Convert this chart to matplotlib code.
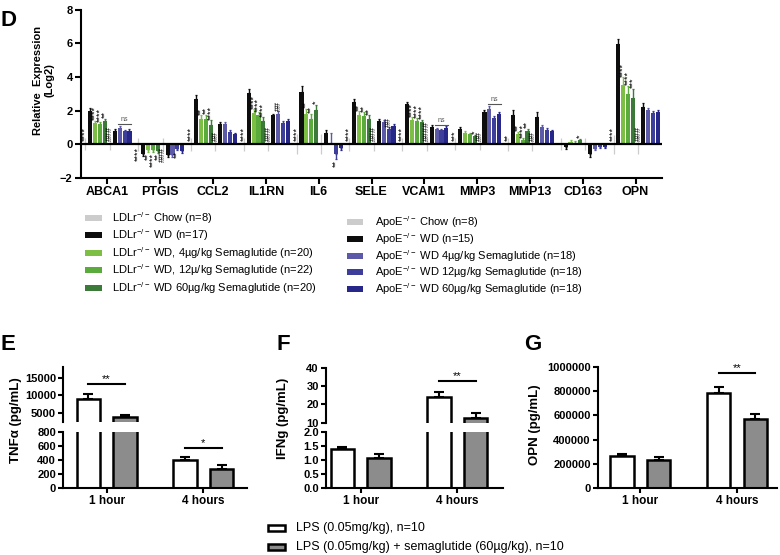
import numpy as np
import matplotlib.pyplot as plt
from matplotlib.patches import Rectangle

plt.rcParams['font.family'] = ['Liberation Sans', 'DejaVu Sans']
plt.rcParams['mathtext.fontset'] = 'custom'
plt.rcParams['mathtext.rm'] = 'Liberation Sans'
plt.rcParams['mathtext.it'] = 'Liberation Sans:italic'
plt.rcParams['mathtext.bf'] = 'Liberation Sans:bold'

W, H = 780, 555

# ---- panel D data (log2 relative expression) ----
genes = ['ABCA1', 'PTGIS', 'CCL2', 'IL1RN', 'IL6', 'SELE', 'VCAM1', 'MMP3', 'MMP13', 'CD163', 'OPN']
ldlr_wd = [2.0, -0.6, 2.67, 3.07, 3.12, 2.49, 2.38, 0.88, 1.76, -0.16, 5.95]
ldlr_4 = [1.28, -0.36, 1.51, 1.88, 1.8, 1.75, 1.45, 0.69, 0.63, 0.14, 3.53]
ldlr_12 = [1.2, -0.36, 1.5, 1.74, 1.52, 1.7, 1.41, 0.6, 0.27, 0.08, 2.98]
ldlr_60 = [1.4, -0.37, 1.12, 1.41, 2.04, 1.51, 1.31, 0.47, 0.76, 0.24, 2.76]
apoe_wd = [0.8, -0.63, 1.2, 1.71, 0.67, 1.41, 1.02, 1.9, 1.61, -0.55, 2.24]
apoe_4 = [0.98, -0.62, 1.2, 1.8, 0.1, 1.35, 0.88, 2.1, 1.02, -0.25, 2.04]
apoe_12 = [0.76, -0.25, 0.72, 1.27, -0.55, 0.92, 0.82, 1.55, 0.86, -0.16, 1.84]
apoe_60 = [0.8, -0.4, 0.6, 1.41, -0.2, 1.08, 0.96, 1.8, 0.76, -0.16, 1.94]
chow = [0.0] * 11

ldlr_wd_err = [0.15, 0.1, 0.25, 0.2, 0.35, 0.2, 0.15, 0.12, 0.3, 0.1, 0.3]
ldlr_4_err = [0.12, 0.1, 0.2, 0.2, 0.3, 0.2, 0.15, 0.08, 0.12, 0.12, 0.45]
ldlr_12_err = [0.1, 0.1, 0.25, 0.15, 0.3, 0.2, 0.15, 0.08, 0.1, 0.1, 0.5]
ldlr_60_err = [0.12, 0.12, 0.3, 0.2, 0.3, 0.2, 0.15, 0.1, 0.15, 0.1, 0.55]
apoe_wd_err = [0.1, 0.1, 0.1, 0.1, 0.2, 0.1, 0.1, 0.12, 0.3, 0.2, 0.2]
apoe_4_err = [0.1, 0.15, 0.15, 0.15, 0.6, 0.1, 0.1, 0.15, 0.1, 0.1, 0.12]
apoe_12_err = [0.08, 0.1, 0.1, 0.1, 0.35, 0.1, 0.1, 0.1, 0.1, 0.06, 0.12]
apoe_60_err = [0.08, 0.1, 0.1, 0.1, 0.15, 0.1, 0.1, 0.1, 0.1, 0.06, 0.12]
chow_err = [0.35, 0.4, 0.4, 0.4, 0.6, 0.4, 0.4, 0.35, 0.4, 0.35, 0.55]

# significance labels per bar (chow L, WD L, 4, 12, 60, chow A, WD A, 4, 12, 60)
stars = [
    ['****', '', '****', '****', '**', '###', '', '', '', ''],
    ['****', '', '**', '****', '**', '###', '', '', '**', ''],
    ['****', '', '**', '**', '****', '##', '', '', '', ''],
    ['****', '', '****', '****', '****', '###', '', '##', '', ''],
    ['****', '', '**', '**', '*', '', '', '', '**', ''],
    ['****', '', '**', '**', '**', '###', '', '', '##', ''],
    ['****', '', '****', '****', '****', '####', '', '', '', ''],
    ['***', '', '', '', '*', '##', '', '', '', ''],
    ['**', '', '**', '****', '**', '##', '', '', '', ''],
    ['', '', '', '', '*', '', '', '', '', ''],
    ['****', '', '****', '****', '***', '###', '', '', '', ''],
]
ns_genes = ['ABCA1', 'VCAM1', 'MMP3']
ns_level = [1.23, 1.17, 2.42]

series = [chow, ldlr_wd, ldlr_4, ldlr_12, ldlr_60, chow, apoe_wd, apoe_4, apoe_12, apoe_60]
series_err = [chow_err, ldlr_wd_err, ldlr_4_err, ldlr_12_err, ldlr_60_err,
              chow_err, apoe_wd_err, apoe_4_err, apoe_12_err, apoe_60_err]
colors = ['#cccccc', '#0d0d0d', '#7dbf45', '#5aaa3c', '#3b7a38',
          '#cccccc', '#0d0d0d', '#5b59a8', '#3d3d9a', '#27278a']

legend_left = ['LDLr$^{-/-}$ Chow (n=8)', 'LDLr$^{-/-}$ WD (n=17)',
               'LDLr$^{-/-}$ WD, 4µg/kg Semaglutide (n=20)',
               'LDLr$^{-/-}$ WD, 12µ/kg Semaglutide (n=22)',
               'LDLr$^{-/-}$ WD 60µg/kg Semaglutide (n=20)']
legend_right = ['ApoE$^{-/-}$ Chow (n=8)', 'ApoE$^{-/-}$ WD (n=15)',
                'ApoE$^{-/-}$ WD 4µg/kg Semaglutide (n=18)',
                'ApoE$^{-/-}$ WD 12µg/kg Semaglutide (n=18)',
                'ApoE$^{-/-}$ WD 60µg/kg Semaglutide (n=18)']

# ---- panels E-G data ----
hours = ['1 hour', '4 hours']
tnf_lps, tnf_lps_err = [8860, 400], [1450, 40]
tnf_sema, tnf_sema_err = [3700, 275], [550, 45]
ifng_lps, ifng_lps_err = [1.37, 24.0], [0.1, 2.5]
ifng_sema, ifng_sema_err = [1.08, 12.7], [0.14, 2.8]
opn_lps, opn_lps_err = [262000, 787000], [20000, 45000]
opn_sema, opn_sema_err = [235000, 570000], [22000, 43000]
lps_labels = ['LPS (0.05mg/kg), n=10', 'LPS (0.05mg/kg) + semaglutide (60µg/kg), n=10']


def rect(x0, y0, x1, y1):
    # pixel box -> figure fraction [left, bottom, width, height]
    return [x0 / W, 1 - y1 / H, (x1 - x0) / W, (y1 - y0) / H]


def fp(x, y):
    return x / W, 1 - y / H


fig = plt.figure(figsize=(7.8, 5.55), dpi=100)

# ================= panel D =================
ax = fig.add_axes(rect(81, 9.5, 662, 178))
pitch = 0.0928
bw = 0.078
xg = np.arange(len(genes))
for k, (vals, errs, c) in enumerate(zip(series, series_err, colors)):
    xs = xg + (k - 4.5) * pitch
    vals = np.array(vals)
    errs = np.array(errs)
    if k in (0, 5):
        ax.errorbar(xs, vals, yerr=errs, fmt='none', ecolor=c, elinewidth=0.9, capsize=0)
        continue
    ax.bar(xs, vals, width=bw, color=c, zorder=2)
    lo = np.where(vals < 0, errs, 0)
    hi = np.where(vals >= 0, errs, 0)
    ax.errorbar(xs, vals, yerr=[lo, hi], fmt='none', ecolor=c, elinewidth=1.0,
                capsize=1, capthick=0.9, zorder=2)

for gi in range(len(genes)):
    neg = ldlr_wd[gi] < 0
    for k in range(10):
        s = stars[gi][k]
        if not s:
            continue
        x = gi + (k - 4.5) * pitch
        v = series[k][gi]
        e = series_err[k][gi]
        kw = dict(rotation=90, ha='center', fontsize=6.5, linespacing=1)
        if k in (0, 5):
            if neg:
                ax.text(x, -0.15, s, va='top', **kw)
            else:
                ax.text(x, 0.2, s, va='bottom', **kw)
        elif v < 0:
            ax.text(x, v - e - 0.05, s, va='top', **kw)
        else:
            ax.text(x, v + e + 0.03, s, va='bottom', **kw)

for g, lvl in zip(ns_genes, ns_level):
    gi = genes.index(g)
    x0 = gi + 2.5 * pitch - 0.03
    x1 = gi + 4.5 * pitch + 0.03
    ax.plot([x0, x1], [lvl, lvl], color='#555555', lw=0.8)
    ax.text((x0 + x1) / 2, lvl + 0.05, 'ns', ha='center', va='bottom', fontsize=5, color='#555555')

ax.axhline(0, color='black', lw=1.6, zorder=3)
ax.set_xlim(-0.5, 10.5)
ax.set_ylim(-2, 8)
ax.set_yticks([-2, 0, 2, 4, 6, 8])
ax.set_xticks(xg)
ax.set_xticklabels(genes, fontweight='bold', fontsize=9)
for lab in ax.get_yticklabels():
    lab.set_fontweight('bold')
    lab.set_fontsize(8)
ax.spines['top'].set_visible(False)
ax.spines['right'].set_visible(False)
ax.spines['left'].set_linewidth(1.5)
ax.spines['bottom'].set_linewidth(1.5)
ax.tick_params(width=1.5, length=4, pad=2)
fig.text(*fp(44, 80), 'Relative  Expression\n(Log2)', rotation=90, ha='center', va='center',
         fontweight='bold', fontsize=8, multialignment='center')
fig.text(*fp(1, 20), 'D', fontsize=16, fontweight='bold', ha='left', va='center')

# top legend
for i, lab in enumerate(legend_left):
    y = [218, 235, 253, 270, 288][i]
    fig.add_artist(Rectangle(fp(85, y + 3), 17 / W, 6 / H, transform=fig.transFigure,
                             facecolor=colors[i], edgecolor='none'))
    fig.text(*fp(112, y), lab, fontsize=8, ha='left', va='center')
for i, lab in enumerate(legend_right):
    y = [222, 239, 256, 272, 289][i]
    fig.add_artist(Rectangle(fp(347, y + 3), 16 / W, 6 / H, transform=fig.transFigure,
                             facecolor=colors[5 + i], edgecolor='none'))
    fig.text(*fp(375, y), lab, fontsize=8, ha='left', va='center')

# ================= panels E-G =================
off = 0.19
bw2 = 0.24
xh = np.arange(2)


def bars(a, v1, e1, v2, e2):
    a.bar(xh - off, v1, width=bw2, color='white', edgecolor='black', linewidth=1.8, zorder=2)
    a.bar(xh + off, v2, width=bw2, color='#8c8c8c', edgecolor='black', linewidth=1.8, zorder=2)
    a.errorbar(xh - off, v1, yerr=[[0, 0], e1], fmt='none', ecolor='black', elinewidth=1.5,
               capsize=3.5, capthick=1.5, zorder=1)
    a.errorbar(xh + off, v2, yerr=[[0, 0], e2], fmt='none', ecolor='black', elinewidth=1.5,
               capsize=3.5, capthick=1.5, zorder=1)


def style(a, bottom=True):
    a.spines['top'].set_visible(False)
    a.spines['right'].set_visible(False)
    a.spines['left'].set_linewidth(1.5)
    a.spines['bottom'].set_linewidth(1.5)
    a.tick_params(width=1.5, length=3.5, pad=1.5, labelsize=8)
    for lab in a.get_yticklabels():
        lab.set_fontweight('bold')
    if bottom:
        a.set_xticks(xh)
        a.set_xticklabels(hours, fontweight='bold', fontsize=8.5)
    else:
        a.spines['bottom'].set_visible(False)
        a.set_xticks([])


def sig(a, x, y, label):
    a.plot([x - off, x + off], [y, y], color='black', lw=1.5, clip_on=False)
    a.text(x, y, label, ha='center', va='bottom', fontsize=8)


# E
eu = fig.add_axes(rect(63, 366.7, 247, 422))
el = fig.add_axes(rect(63, 431.7, 247, 488))
for a in (eu, el):
    bars(a, tnf_lps, tnf_lps_err, tnf_sema, tnf_sema_err)
    a.set_xlim(-0.45, 1.45)
eu.set_ylim(2350, 18150)
eu.set_yticks([5000, 10000, 15000])
el.set_ylim(0, 800)
el.set_yticks([0, 200, 400, 600, 800])
style(eu, bottom=False)
style(el)
sig(eu, 0, 13200, '**')
sig(el, 1, 565, '*')
fig.text(*fp(16, 420), 'TNFα (pg/mL)', rotation=90, ha='center', va='center',
         fontweight='bold', fontsize=9.5)
fig.text(*fp(1, 345), 'E', fontsize=16, fontweight='bold', ha='left', va='center')

# F
fu = fig.add_axes(rect(325.7, 367.7, 503, 422.7))
fl = fig.add_axes(rect(325.7, 431.7, 503, 488))
for a in (fu, fl):
    bars(a, ifng_lps, ifng_lps_err, ifng_sema, ifng_sema_err)
    a.set_xlim(-0.36, 1.47)
fu.set_ylim(10, 40)
fu.set_yticks([10, 20, 30, 40])
fl.set_ylim(0, 2.0)
fl.set_yticks([0, 0.5, 1.0, 1.5, 2.0])
fl.set_yticklabels(['0.0', '0.5', '1.0', '1.5', '2.0'])
style(fu, bottom=False)
style(fl)
sig(fu, 1, 32.9, '**')
fig.text(*fp(283, 418), 'IFNg (pg/mL)', rotation=90, ha='center', va='center',
         fontweight='bold', fontsize=9.5)
fig.text(*fp(276, 345), 'F', fontsize=16, fontweight='bold', ha='left', va='center')

# G
ga = fig.add_axes(rect(597.7, 366.7, 776.7, 488.3))
bars(ga, opn_lps, opn_lps_err, opn_sema, opn_sema_err)
ga.set_xlim(-0.44, 1.41)
ga.set_ylim(0, 1000000)
ga.set_yticks([0, 200000, 400000, 600000, 800000, 1000000])
ga.set_yticklabels(['0', '200000', '400000', '600000', '800000', '1000000'])
style(ga)
sig(ga, 1, 950000, '**')
fig.text(*fp(535, 425), 'OPN (pg/mL)', rotation=90, ha='center', va='center',
         fontweight='bold', fontsize=9.5)
fig.text(*fp(524, 345), 'G', fontsize=16, fontweight='bold', ha='left', va='center')

# bottom legend
for i, lab in enumerate(lps_labels):
    y = [528, 547][i]
    fig.add_artist(Rectangle(fp(268, y + 3), 17 / W, 6 / H, transform=fig.transFigure,
                             facecolor=['white', '#8c8c8c'][i], edgecolor='black', linewidth=1.8))
    fig.text(*fp(296, y), lab, fontsize=9, ha='left', va='center')

fig.savefig('out.png', dpi=100)
